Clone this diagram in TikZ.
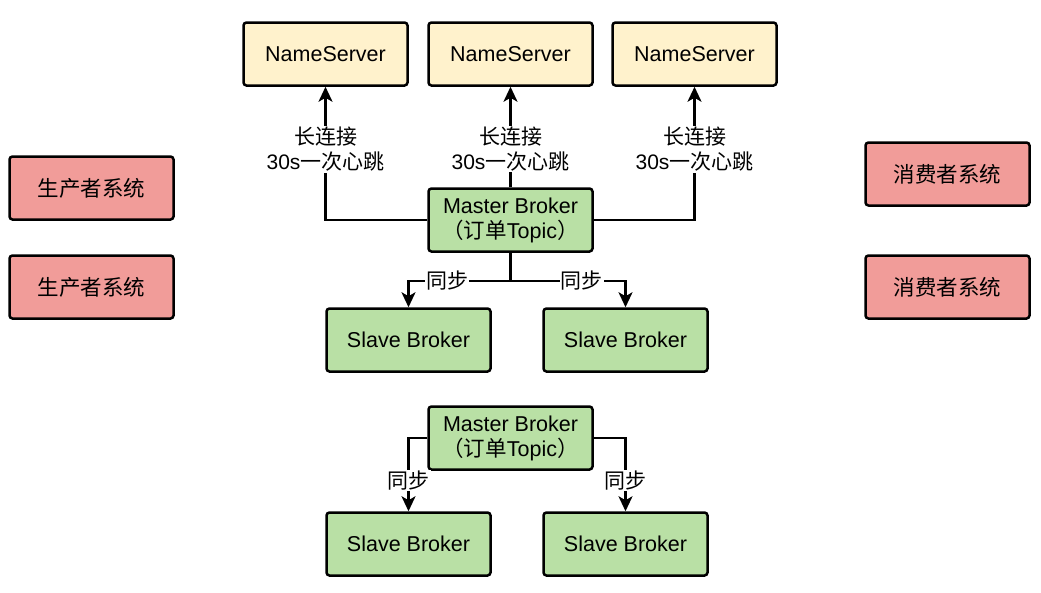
\documentclass[tikz,border=0pt]{standalone}
\usepackage{fontspec}
\setmainfont{Liberation Sans}
\newfontfamily\cjk{Noto Sans CJK SC}
\usetikzlibrary{arrows.meta}
\definecolor{nsfill}{HTML}{FFF2CC}
\definecolor{grfill}{HTML}{B9E0A5}
\definecolor{rdfill}{HTML}{F19C99}
\begin{document}
\begin{tikzpicture}[x=1pt,y=-1pt,
  box/.style={draw=black, line width=2.5pt, rounded corners=3pt, minimum width=164pt, minimum height=63pt, inner sep=0pt, align=center, font=\fontsize{21.5}{25}\selectfont},
  nsbox/.style={box, fill=nsfill},
  grbox/.style={box, fill=grfill},
  rdbox/.style={box, fill=rdfill},
  conn/.style={draw=black, line width=2.2pt},
  arr/.style={conn, -{Stealth[length=15pt,width=14pt,inset=4pt]}},
  lbl/.style={fill=white, inner sep=1pt, align=center, font=\fontsize{21}{25}\selectfont}
]
\useasboundingbox (0,0) rectangle (1041,592);
% NameServers
\node[nsbox] (ns1) at (325.5,54) {NameServer};
\node[nsbox] (ns2) at (510.5,54) {NameServer};
\node[nsbox] (ns3) at (694.5,54) {NameServer};
% producers / consumers
\node[rdbox] (p1) at (91.5,188) {\cjk 生产者系统};
\node[rdbox] (p2) at (91.5,287) {\cjk 生产者系统};
\node[rdbox] (c1) at (947.5,174) {\cjk 消费者系统};
\node[rdbox] (c2) at (947.5,287) {\cjk 消费者系统};
% group 1
\node[grbox] (m1) at (510.5,220) {Master Broker\\{\cjk （订单}Topic{\cjk ）}};
\node[grbox] (s1) at (408.5,340) {Slave Broker};
\node[grbox] (s2) at (625.5,340) {Slave Broker};
% group 2
\node[grbox] (m2) at (510.5,438) {Master Broker\\{\cjk （订单}Topic{\cjk ）}};
\node[grbox] (s3) at (408.5,544) {Slave Broker};
\node[grbox] (s4) at (625.5,544) {Slave Broker};
% heartbeat connectors
\draw[arr] (m1.west) -| node[pos=0.765,lbl]{{\cjk 长连接}\\30s{\cjk 一次心跳}} (ns1.south);
\draw[arr] (m1.north) -- node[pos=0.38,lbl]{{\cjk 长连接}\\30s{\cjk 一次心跳}} (ns2.south);
\draw[arr] (m1.east) -| node[pos=0.765,lbl]{{\cjk 长连接}\\30s{\cjk 一次心跳}} (ns3.south);
% sync group 1
\coordinate (j1) at (510.5,281);
\draw[conn] (m1.south) -- (j1);
\draw[arr] (j1) -| node[pos=0.31,lbl]{\cjk 同步} (s1.north);
\draw[arr] (j1) -| node[pos=0.31,lbl]{\cjk 同步} (s2.north);
% sync group 2
\draw[arr] (m2.west) -| node[pos=0.79,lbl]{\cjk 同步} (s3.north);
\draw[arr] (m2.east) -| node[pos=0.79,lbl]{\cjk 同步} (s4.north);
\end{tikzpicture}
\end{document}
